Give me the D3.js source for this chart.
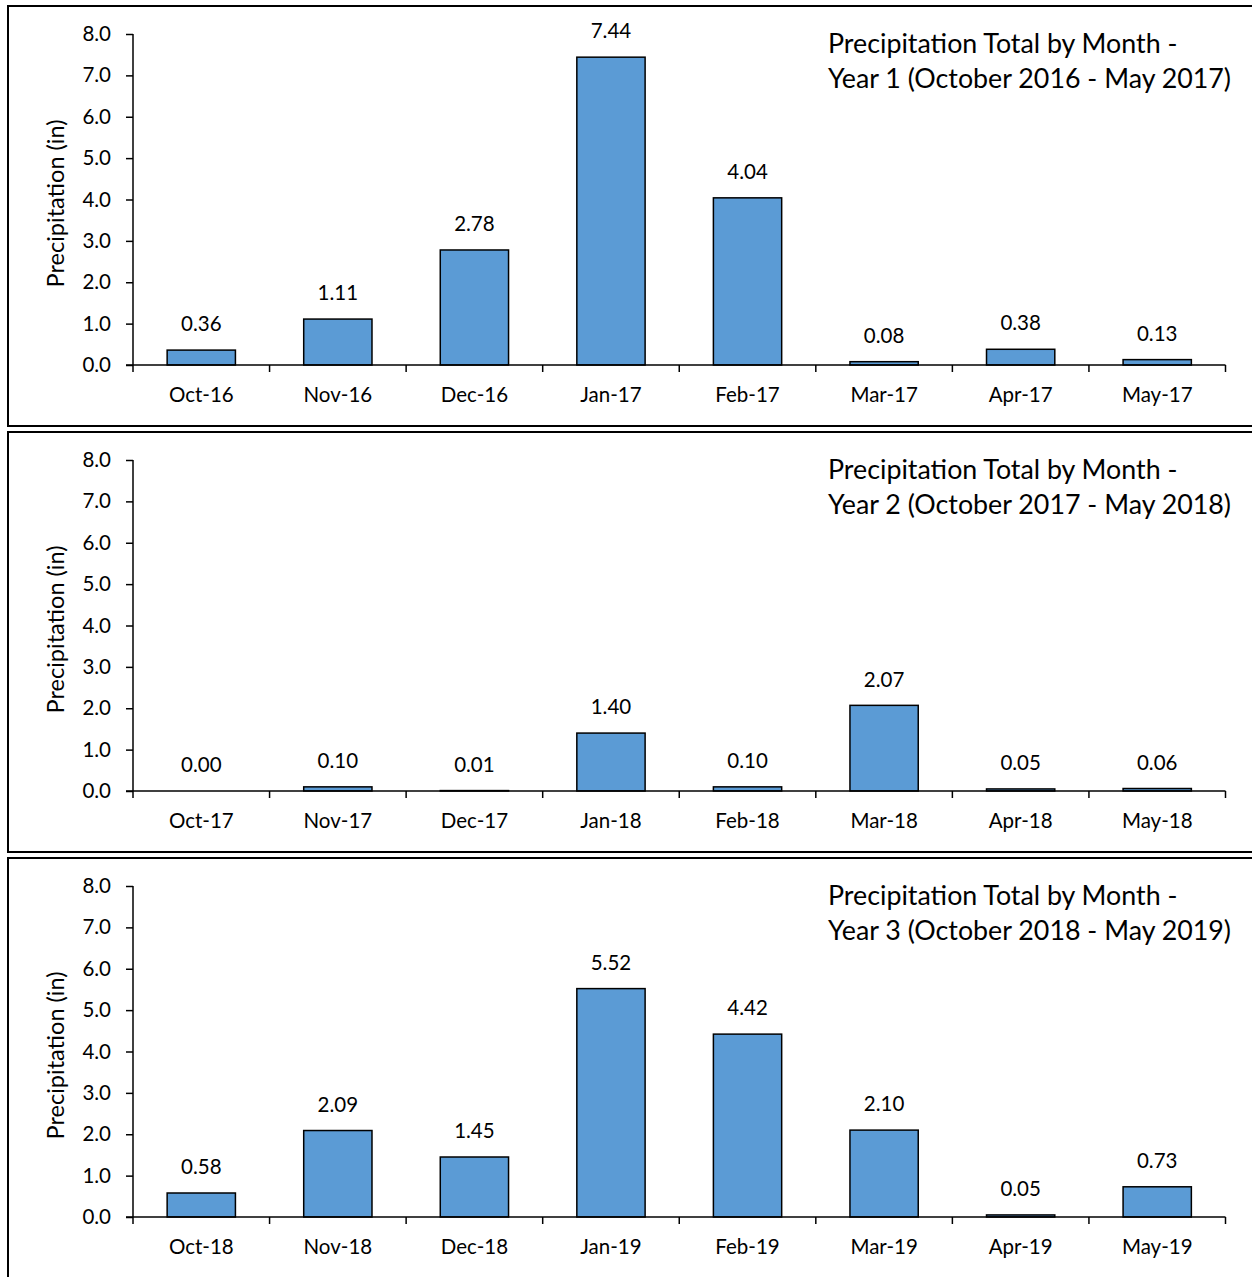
<!DOCTYPE html>
<html><head><meta charset="utf-8">
<script src="https://cdn.jsdelivr.net/npm/d3@7"></script>
<style>body{margin:0;background:#fff}svg{display:block}</style>
</head><body>
<script>
const months1 = ["Oct-16","Nov-16","Dec-16","Jan-17","Feb-17","Mar-17","Apr-17","May-17"];
const values1 = [0.36,1.11,2.78,7.44,4.04,0.08,0.38,0.13];
const months2 = ["Oct-17","Nov-17","Dec-17","Jan-18","Feb-18","Mar-18","Apr-18","May-18"];
const values2 = [0.00,0.10,0.01,1.40,0.10,2.07,0.05,0.06];
const months3 = ["Oct-18","Nov-18","Dec-18","Jan-19","Feb-19","Mar-19","Apr-19","May-19"];
const values3 = [0.58,2.09,1.45,5.52,4.42,2.10,0.05,0.73];
const titles = [
  ["Precipitation Total by Month -","Year 1 (October 2016 - May 2017)"],
  ["Precipitation Total by Month -","Year 2 (October 2017 - May 2018)"],
  ["Precipitation Total by Month -","Year 3 (October 2018 - May 2019)"]
];
const yTicks = [0,1,2,3,4,5,6,7,8];
const yLabel = "Precipitation (in)";

const panels = [
  {months: months1, values: values1, title: titles[0]},
  {months: months2, values: values2, title: titles[1]},
  {months: months3, values: values3, title: titles[2]}
];

const W = 1252, H = 1277;
const FONT = "Lato, 'Open Sans', sans-serif";
const svg = d3.select("body").append("svg").attr("width", W).attr("height", H);

const panelTops = [5, 431, 857];
const panelH = 422;

panels.forEach((p, i) => {
  const top = panelTops[i];
  const g = svg.append("g").attr("transform", `translate(0,${top})`);
  // border
  g.append("rect").attr("x", 8).attr("y", 1).attr("width", W + 20).attr("height", i === 2 ? panelH + 40 : panelH - 2)
    .attr("fill", "none").attr("stroke", "#000").attr("stroke-width", 2);

  const x0 = 133, x1 = 1225.5, yTop = 29, yBot = 360;
  const x = d3.scaleBand().domain(p.months).range([x0, x1]).paddingInner(0.5).paddingOuter(0.25);
  const xb = d3.scaleBand().domain(p.months).range([x0, x1]);
  const y = d3.scaleLinear().domain([0, 8]).range([yBot, yTop]);

  // bars
  g.selectAll("rect.bar").data(p.values).join("rect").attr("class","bar")
    .attr("x", (d, j) => x(p.months[j]))
    .attr("width", x.bandwidth())
    .attr("y", d => y(d))
    .attr("height", d => yBot - y(d))
    .attr("fill", "#5B9BD5")
    .attr("stroke", d => d > 0 ? "#000" : "none")
    .attr("stroke-width", 1.5);

  // data labels
  g.selectAll("text.lbl").data(p.values).join("text").attr("class","lbl")
    .attr("x", (d, j) => x(p.months[j]) + x.bandwidth() / 2)
    .attr("y", d => y(d) - 24)
    .attr("text-anchor", "middle")
    .attr("dominant-baseline", "middle")
    .attr("font-family", FONT).attr("font-size", 20.5).attr("fill", "#000")
    .text(d => d.toFixed(2));

  // y axis
  const yAxis = d3.axisLeft(y).tickValues(yTicks).tickSize(7).tickPadding(15).tickFormat(d3.format(".1f"));
  const ya = g.append("g").attr("transform", `translate(${x0},0)`).call(yAxis);
  ya.select(".domain").attr("d", `M0,${yTop}V${yBot}`).attr("stroke", "#000").attr("stroke-width", 1.5);
  ya.selectAll(".tick line").attr("stroke", "#000").attr("stroke-width", 1.5);
  ya.selectAll(".tick text").attr("font-family", FONT).attr("font-size", 20.5).attr("fill", "#000");

  // x axis
  const xAxis = d3.axisBottom(xb).tickSize(0).tickPadding(27);
  const xa = g.append("g").attr("transform", `translate(0,${yBot})`).call(xAxis);
  xa.select(".domain").attr("d", `M${x0 - 7},0H${x1}`).attr("stroke", "#000").attr("stroke-width", 1.5);
  xa.selectAll(".tick text").attr("font-family", FONT).attr("font-size", 20.5).attr("fill", "#000").attr("dy", "0.5em");
  const bounds = p.months.map(m => xb(m)).concat([x1]);
  xa.selectAll("line.bt").data(bounds).join("line").attr("class","bt")
    .attr("x1", d => d).attr("x2", d => d).attr("y1", 0).attr("y2", 7)
    .attr("stroke", "#000").attr("stroke-width", 1.5);

  // y label
  g.append("text")
    .attr("transform", `translate(58,${(yTop + yBot) / 2 + 4}) rotate(-90)`)
    .attr("text-anchor", "middle").attr("dominant-baseline", "middle")
    .attr("font-family", FONT).attr("font-size", 23.5).attr("fill", "#000")
    .text(yLabel);

  // title
  const t = g.append("text").attr("font-family", FONT).attr("font-size", 26.8).attr("fill", "#000");
  t.append("tspan").attr("x", 828).attr("y", 48).text(p.title[0]);
  t.append("tspan").attr("x", 828).attr("y", 83).text(p.title[1]);
});
</script>
</body></html>
